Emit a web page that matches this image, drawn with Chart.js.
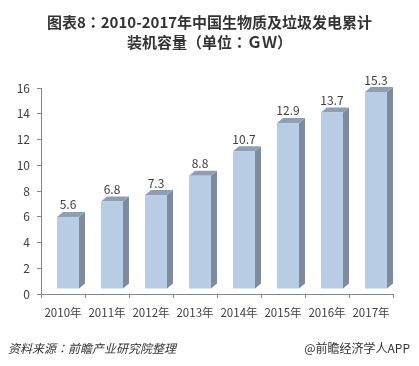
<!DOCTYPE html>
<html><head><meta charset="utf-8">
<script src="https://cdn.jsdelivr.net/npm/chart.js@4.4.1/dist/chart.umd.min.js"></script>
<style>
html,body{margin:0;padding:0;background:#fff;}
#wrap{position:relative;width:419px;height:366px;overflow:hidden;font-family:"Noto Sans CJK SC","Noto Sans",sans-serif;}
#c{position:absolute;left:0;top:0;}
.title{position:absolute;left:0;width:419px;text-align:center;font-weight:bold;font-size:15px;color:#333;line-height:20px;}
.foot{position:absolute;top:339px;font-size:12px;color:#333;line-height:18px;}
.p{font-family:"Noto Sans CJK TC","Noto Sans CJK SC",sans-serif;}
</style></head><body>
<div id="wrap">
<canvas id="c" width="419" height="366"></canvas>
<div class="title" style="top:12px;">图表8<span class="p">：</span>2010-2017年中国生物质及垃圾发电累计</div>
<div class="title" style="top:32px;">装机容量<span class="p">（</span>单位<span class="p">：</span>ＧＷ<span class="p">）</span></div>
<div class="foot" style="left:8px;font-style:italic;">资料来源<span class="p">：</span>前瞻产业研究院整理</div>
<div class="foot" style="right:9px;">@前瞻经济学人APP</div>
</div>
<script>
const categories = ["2010年","2011年","2012年","2013年","2014年","2015年","2016年","2017年"];
const capacity = [5.6, 6.8, 7.3, 8.8, 10.7, 12.9, 13.7, 15.3];
const yTicks = [0, 2, 4, 6, 8, 10, 12, 14, 16];

const bar3d = {
  id: 'bar3d',
  afterDatasetsDraw(chart) {
    const ctx = chart.ctx;
    const meta = chart.getDatasetMeta(0);
    const ox = 5, oy = 5, dx = 6, dy = 5;
    ctx.save();
    meta.data.forEach((el, i) => {
      const p = el.getProps(['x','y','base','width'], true);
      const l = p.x - p.width/2 + ox, r = p.x + p.width/2 + ox;
      const t = p.y - oy, b = p.base - oy;
      ctx.fillStyle = '#7c8b9e';
      ctx.beginPath();
      ctx.moveTo(r, t); ctx.lineTo(r+dx, t-dy); ctx.lineTo(r+dx, b-dy); ctx.lineTo(r, b); ctx.closePath(); ctx.fill();
      ctx.fillStyle = '#8e9fb4';
      ctx.beginPath();
      ctx.moveTo(l, t); ctx.lineTo(l+dx, t-dy); ctx.lineTo(r+dx, t-dy); ctx.lineTo(r, t); ctx.closePath(); ctx.fill();
      ctx.fillStyle = '#b8cce4';
      ctx.fillRect(l, t, r-l, b-t);
      ctx.fillStyle = '#404040';
      ctx.font = '12px "Noto Sans CJK SC", sans-serif';
      ctx.textAlign = 'center';
      ctx.textBaseline = 'middle';
      ctx.fillText(String(capacity[i]), (l+r)/2, t - 12);
    });
    ctx.restore();
  }
};

new Chart(document.getElementById('c'), {
  type: 'bar',
  data: {
    labels: categories,
    datasets: [{ data: capacity, backgroundColor: 'rgba(0,0,0,0)', barPercentage: 0.5, categoryPercentage: 1.0 }]
  },
  options: {
    responsive: false,
    animation: false,
    events: [],
    layout: { padding: { left: 0, right: 26, top: 88, bottom: 42 } },
    plugins: { legend: { display: false }, tooltip: { enabled: false } },
    scales: {
      x: {
        afterFit(s) { s.height = 30; },
        grid: { display: true, drawOnChartArea: false, drawTicks: true, tickLength: 4, color: '#868686', offset: true },
        border: { display: true, color: '#868686' },
        ticks: { color: '#404040', font: { size: 11.5, family: '"Noto Sans CJK SC", sans-serif' }, padding: 8, maxRotation: 0 }
      },
      y: {
        min: 0, max: 16,
        afterFit(s) { s.width = 41; },
        afterBuildTicks(s) { s.ticks = yTicks.map(v => ({ value: v })); },
        grid: { display: true, drawOnChartArea: false, drawTicks: true, tickLength: 4, color: '#868686' },
        border: { display: true, color: '#868686' },
        ticks: { color: '#404040', font: { size: 12, family: '"Noto Sans CJK SC", sans-serif' }, padding: 7 }
      }
    }
  },
  plugins: [bar3d]
});
</script>
</body></html>
